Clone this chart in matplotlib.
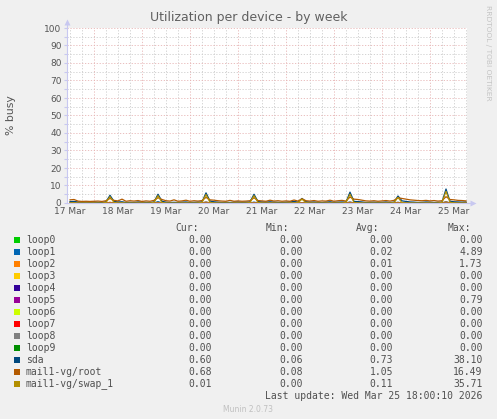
import numpy as np
import matplotlib
matplotlib.use("Agg")
import matplotlib.pyplot as plt
from matplotlib.patches import Rectangle

# ---------------- data ----------------
title = "Utilization per device - by week"
day_labels = ["17 Mar", "18 Mar", "19 Mar", "20 Mar", "21 Mar",
              "22 Mar", "23 Mar", "24 Mar", "25 Mar"]

# samples every 2 hours, hours since the left edge of the graph
t_hours = np.arange(100) * 2 + 1.5

root = [
    1.8, 2.0, 1.1, 0.9, 1.0, 0.9, 1.0, 1.1, 0.9, 1.3, 2.6, 1.5,
    1.2, 2.2, 1.0, 1.3, 1.1, 1.4, 0.9, 1.2, 1.0, 1.5, 3.0, 2.0,
    1.3, 1.1, 1.8, 1.0, 1.2, 1.6, 1.0, 1.3, 1.1, 1.4, 3.2, 1.8,
    1.6, 1.3, 1.1, 1.0, 1.5, 1.0, 1.2, 1.0, 1.1, 1.3, 3.0, 1.4,
    1.2, 1.0, 1.6, 1.1, 1.3, 1.0, 1.2, 1.0, 1.7, 1.1, 2.4, 1.3,
    1.1, 1.4, 1.0, 1.2, 1.1, 1.6, 1.0, 1.3, 1.5, 1.1, 3.4, 2.2,
    2.0, 1.6, 1.2, 1.1, 1.3, 1.0, 1.2, 1.4, 1.1, 1.5, 3.0, 2.6,
    2.2, 1.8, 1.6, 1.4, 1.3, 1.5, 1.2, 1.4, 1.1, 1.3, 3.6, 2.0,
    1.8, 1.5, 1.4, 1.2,
]
sda = [
    0.8, 0.9, 0.6, 0.5, 0.6, 0.5, 0.6, 0.4, 0.3, 0.7, 4.4, 0.9,
    0.6, 0.7, 0.3, 0.4, 0.3, 0.6, 0.5, 0.4, 0.3, 0.6, 5.0, 1.0,
    0.5, 0.3, 0.4, 0.3, 0.5, 0.6, 0.3, 0.4, 0.5, 0.6, 5.8, 1.1,
    0.7, 0.5, 0.3, 0.4, 0.3, 0.5, 0.6, 0.4, 0.5, 0.6, 5.0, 0.8,
    0.6, 0.5, 0.7, 0.5, 0.4, 0.3, 0.5, 0.6, 0.9, 0.5, 2.6, 0.7,
    0.5, 0.6, 0.4, 0.3, 0.5, 0.7, 0.4, 0.5, 0.6, 0.5, 6.2, 0.9,
    0.8, 0.6, 0.3, 0.4, 0.5, 0.3, 0.4, 0.6, 0.3, 0.5, 4.0, 1.2,
    0.9, 0.6, 0.5, 0.3, 0.4, 0.6, 0.5, 0.3, 0.4, 0.5, 8.0, 1.0,
    0.7, 0.6, 0.5, 0.6,
]
swap = [
    0.1, 0.1, 0.0, 0.0, 0.0, 0.0, 0.0, 0.0, 0.0, 0.3, 3.6, 0.3,
    0.0, 0.1, 0.0, 0.0, 0.0, 0.0, 0.0, 0.0, 0.0, 0.3, 4.2, 0.2,
    0.0, 0.0, 0.0, 0.0, 0.0, 0.0, 0.0, 0.0, 0.0, 0.3, 4.8, 0.3,
    0.0, 0.0, 0.0, 0.0, 0.0, 0.0, 0.0, 0.0, 0.0, 0.2, 4.2, 0.2,
    0.0, 0.0, 0.0, 0.0, 0.0, 0.0, 0.0, 0.0, 0.0, 0.2, 2.2, 0.1,
    0.0, 0.0, 0.0, 0.0, 0.0, 0.0, 0.0, 0.0, 0.0, 0.3, 5.0, 0.3,
    0.0, 0.0, 0.0, 0.0, 0.0, 0.0, 0.0, 0.0, 0.0, 0.2, 3.2, 0.2,
    0.0, 0.0, 0.0, 0.0, 0.0, 0.0, 0.0, 0.0, 0.0, 0.3, 6.6, 0.4,
    0.1, 0.0, 0.0, 0.0,
]
loop1 = [
    0.0, 0.0, 0.0, 0.0, 0.0, 0.0, 0.0, 0.0, 0.0, 0.0, 0.3, 0.0,
    0.0, 0.0, 0.0, 0.0, 0.0, 0.0, 0.0, 0.0, 0.0, 0.0, 0.8, 0.0,
    0.0, 0.0, 0.0, 0.0, 0.0, 0.0, 0.0, 0.0, 0.0, 0.0, 0.6, 0.0,
    0.0, 0.0, 0.0, 0.0, 0.0, 0.0, 0.0, 0.0, 0.0, 0.0, 0.5, 0.0,
    0.0, 0.0, 0.0, 0.0, 0.0, 0.0, 0.0, 0.0, 0.0, 0.0, 0.2, 0.0,
    0.0, 0.0, 0.0, 0.0, 0.0, 0.0, 0.0, 0.0, 0.0, 0.0, 0.6, 0.0,
    0.0, 0.0, 0.0, 0.0, 0.0, 0.0, 0.0, 0.0, 0.0, 0.0, 0.4, 0.0,
    0.0, 0.0, 0.0, 0.0, 0.0, 0.0, 0.0, 0.0, 0.0, 0.0, 0.8, 0.0,
    0.0, 0.0, 0.0, 0.0,
]
loop2 = [
    0.0, 0.0, 0.0, 0.0, 0.0, 0.0, 0.0, 0.0, 0.0, 0.0, 0.4, 0.0,
    0.0, 0.0, 0.0, 0.0, 0.0, 0.0, 0.0, 0.0, 0.0, 0.0, 0.3, 0.0,
    0.0, 0.0, 0.0, 0.0, 0.0, 0.0, 0.0, 0.0, 0.0, 0.0, 0.5, 0.0,
    0.0, 0.0, 0.0, 0.0, 0.0, 0.0, 0.0, 0.0, 0.0, 0.0, 0.3, 0.0,
    0.0, 0.0, 0.0, 0.0, 0.0, 0.0, 0.0, 0.0, 0.0, 0.0, 0.2, 0.0,
    0.0, 0.0, 0.0, 0.0, 0.0, 0.0, 0.0, 0.0, 0.0, 0.0, 0.4, 0.0,
    0.0, 0.0, 0.0, 0.0, 0.0, 0.0, 0.0, 0.0, 0.0, 0.0, 0.3, 0.0,
    0.0, 0.0, 0.0, 0.0, 0.0, 0.0, 0.0, 0.0, 0.0, 0.0, 0.6, 0.0,
    0.0, 0.0, 0.0, 0.0,
]
loop5 = np.zeros(100)
loop_zero = np.zeros(100)

series_names = ["loop0", "loop1", "loop2", "loop3", "loop4", "loop5", "loop6",
                "loop7", "loop8", "loop9", "sda", "mail1-vg/root", "mail1-vg/swap_1"]
series_colors = ["#00CC00", "#0066B3", "#FF8000", "#FFCC00", "#330099", "#990099",
                 "#CCFF00", "#FF0000", "#808080", "#008F00", "#00487D", "#B35A00",
                 "#B38F00"]
series_values = [loop_zero, loop1, loop2, loop_zero, loop_zero, loop5, loop_zero,
                 loop_zero, loop_zero, loop_zero, sda, root, swap]

cur = ["0.00", "0.00", "0.00", "0.00", "0.00", "0.00", "0.00", "0.00", "0.00",
       "0.00", "0.60", "0.68", "0.01"]
mins = ["0.00", "0.00", "0.00", "0.00", "0.00", "0.00", "0.00", "0.00", "0.00",
        "0.00", "0.06", "0.08", "0.00"]
avgs = ["0.00", "0.02", "0.01", "0.00", "0.00", "0.00", "0.00", "0.00", "0.00",
        "0.00", "0.73", "1.05", "0.11"]
maxs = ["0.00", "4.89", "1.73", "0.00", "0.00", "0.79", "0.00", "0.00", "0.00",
        "0.00", "38.10", "16.49", "35.71"]

# ---------------- figure ----------------
W, H = 497, 419
BG = "#F0F0F0"
AXC = "#C8C8F0"
TXT = "#555555"

fig = plt.figure(figsize=(W / 100, H / 100), dpi=100, facecolor=BG)

def fx(px):
    return px / W

def fy(py):
    return 1 - py / H

L, R, T, B = 67, 467, 28, 203
ax = fig.add_axes([fx(L), fy(B), (R - L) / W, (B - T) / H])
ax.set_facecolor("white")
ax.set_xlim(0, 200)
ax.set_ylim(0, 100)

# grid
midnights = 13.5 + 24 * np.arange(8)
sixh = 1.5 + 6 * np.arange(34)
noons = 1.5 + 24 * np.arange(len(day_labels))
dot = (0, (1.5, 2.0))
GRIDC = "#CCCCCC"
MGRIDC = "#E6B4B4"
for x in sixh:
    if not np.any(np.isclose(x, midnights)):
        ax.axvline(x, color=GRIDC, lw=0.6, ls=dot, zorder=0.5)
for x in midnights:
    ax.axvline(x, color=MGRIDC, lw=0.6, ls=dot, zorder=0.6)
for y in range(5, 100, 10):
    ax.axhline(y, color=GRIDC, lw=0.6, ls=dot, zorder=0.5)
for y in range(10, 101, 10):
    ax.axhline(y, color=MGRIDC, lw=0.6, ls=dot, zorder=0.6)

# lines
for vals, col in zip(series_values, series_colors):
    ax.plot(t_hours, vals, color=col, lw=0.9, zorder=2)

# axes styling
for s in ["top", "right"]:
    ax.spines[s].set_visible(False)
for s in ["left", "bottom"]:
    ax.spines[s].set_color(AXC)
    ax.spines[s].set_linewidth(0.8)
    ax.spines[s].set_zorder(3)

ax.set_yticks(range(0, 101, 10))
ax.set_yticks(range(5, 100, 10), minor=True)
ax.tick_params(axis="y", which="both", length=2, color=AXC, labelsize=6.5,
               labelcolor=TXT, pad=2, width=0.8)
ax.set_xticks(noons)
ax.set_xticklabels(day_labels)
ax.tick_params(axis="x", length=0, labelsize=6.5, labelcolor=TXT, pad=3)

# axis extensions and arrows
ax.plot([0, 0], [1, 1 + 6 / 175], transform=ax.transAxes, color=AXC, lw=0.8,
        clip_on=False, zorder=3)
ax.plot([0], [1 + 6 / 175], marker="^", ms=4, color=AXC, transform=ax.transAxes,
        clip_on=False, zorder=3, mec="none")
ax.plot([1, 1 + 6 / 400], [0, 0], transform=ax.transAxes, color=AXC, lw=0.8,
        clip_on=False, zorder=3)
ax.plot([1 + 6 / 400], [0], marker=">", ms=4, color=AXC, transform=ax.transAxes,
        clip_on=False, zorder=3, mec="none")

# titles
fig.text(fx(248.5), fy(18), title, ha="center", va="center", fontsize=9,
         color="#606060")
fig.text(fx(10.5), fy(115), "% busy", rotation=90, ha="center", va="center",
         fontsize=7.8, color=TXT)
fig.text(fx(488), fy(53), "RRDTOOL / TOBI OETIKER", rotation=270, ha="center",
         va="center", fontsize=5.4, color="#C4C4C4")

# legend
mono = "DejaVu Sans Mono"
LFS = 7
LC = "#505050"
hy = 228
fig.text(fx(199), fy(hy), "Cur:", ha="right", va="center", family=mono, fontsize=LFS, color=LC)
fig.text(fx(289.5), fy(hy), "Min:", ha="right", va="center", family=mono, fontsize=LFS, color=LC)
fig.text(fx(379.5), fy(hy), "Avg:", ha="right", va="center", family=mono, fontsize=LFS, color=LC)
fig.text(fx(471.5), fy(hy), "Max:", ha="right", va="center", family=mono, fontsize=LFS, color=LC)

for i, name in enumerate(series_names):
    y = 240 + 12 * i
    fig.patches.append(Rectangle((fx(14), fy(y + 3)), 6 / W, 6 / H,
                                 transform=fig.transFigure, facecolor=series_colors[i],
                                 edgecolor="none"))
    fig.text(fx(26), fy(y), name, ha="left", va="center", family=mono,
             fontsize=LFS, color=LC)
    fig.text(fx(211.7), fy(y), cur[i], ha="right", va="center", family=mono,
             fontsize=LFS, color=LC)
    fig.text(fx(302.7), fy(y), mins[i], ha="right", va="center", family=mono,
             fontsize=LFS, color=LC)
    fig.text(fx(393.3), fy(y), avgs[i], ha="right", va="center", family=mono,
             fontsize=LFS, color=LC)
    fig.text(fx(482.7), fy(y), maxs[i], ha="right", va="center", family=mono,
             fontsize=LFS, color=LC)

fig.text(fx(482.7), fy(396), "Last update: Wed Mar 25 18:00:10 2026", ha="right",
         va="center", family=mono, fontsize=LFS, color=LC)
fig.text(fx(248), fy(409), "Munin 2.0.73", ha="center", va="center",
         fontsize=5.5, color="#C0C0C0")

fig.savefig("out.png", dpi=100, facecolor=BG)
